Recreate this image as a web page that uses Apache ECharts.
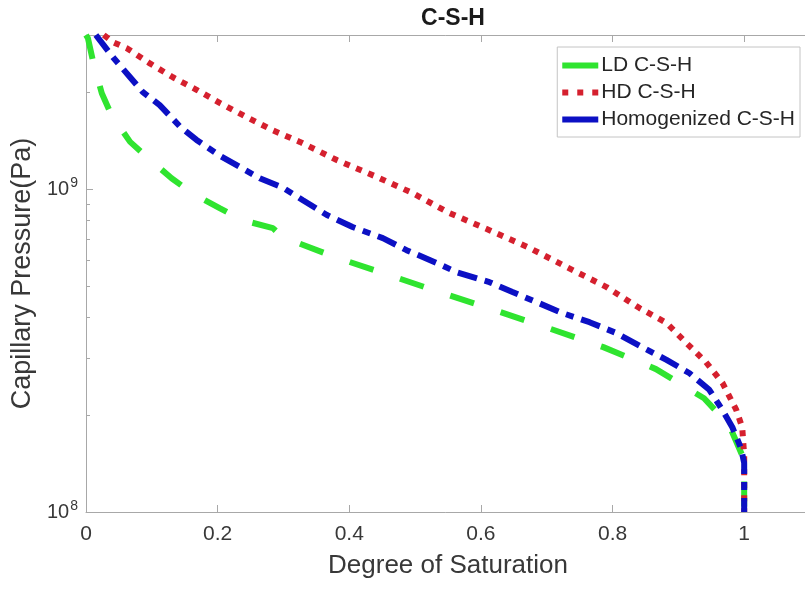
<!DOCTYPE html>
<html><head><meta charset="utf-8">
<script src="https://cdn.jsdelivr.net/npm/echarts@6/dist/echarts.min.js"></script>
<style>html,body{margin:0;padding:0;background:#fff}#c{width:805px;height:590px}</style>
</head><body><div id="c"></div>
<script>
const title = 'C-S-H';
const seriesNames = ['LD C-S-H', 'HD C-S-H', 'Homogenized C-S-H'];
const xTicks = [0, 0.2, 0.4, 0.6, 0.8, 1];
const yTicks = [1e8, 1e9];
const yMinorTicks = [2e8, 3e8, 4e8, 5e8, 6e8, 7e8, 8e8, 9e8, 2e9, 3e9];

const ldX = [0, 0.003, 0.011, 0.024, 0.039, 0.067, 0.094, 0.130, 0.161, 0.203, 0.237, 0.284, 0.299, 0.378, 0.460, 0.542, 0.616, 0.706, 0.786, 0.866, 0.939, 0.977, 1.0, 1.0];
const ldY = [3.0e9, 2.93e9, 2.47e9, 1.98e9, 1.69e9, 1.40e9, 1.25e9, 1.08e9, 9.72e8, 8.73e8, 8.02e8, 7.57e8, 7.10e8, 6.16e8, 5.42e8, 4.76e8, 4.25e8, 3.69e8, 3.24e8, 2.77e8, 2.25e8, 1.86e8, 1.45e8, 1.0e8];

const hdX = [0.027, 0.041, 0.062, 0.097, 0.132, 0.168, 0.203, 0.244, 0.284, 0.325, 0.381, 0.442, 0.496, 0.552, 0.613, 0.674, 0.730, 0.791, 0.841, 0.882, 0.912, 0.942, 0.967, 0.988, 0.997, 1.0, 1.0];
const hdY = [3.0e9, 2.85e9, 2.73e9, 2.45e9, 2.22e9, 2.03e9, 1.85e9, 1.67e9, 1.52e9, 1.40e9, 1.23e9, 1.09e9, 9.72e8, 8.43e8, 7.46e8, 6.57e8, 5.74e8, 4.97e8, 4.28e8, 3.85e8, 3.34e8, 2.91e8, 2.51e8, 2.07e8, 1.83e8, 1.50e8, 1.0e8];

const homX = [0.015, 0.041, 0.067, 0.086, 0.112, 0.143, 0.168, 0.203, 0.234, 0.264, 0.299, 0.329, 0.366, 0.405, 0.451, 0.487, 0.533, 0.563, 0.613, 0.648, 0.684, 0.724, 0.765, 0.806, 0.845, 0.882, 0.917, 0.947, 0.967, 0.982, 0.995, 1.0, 1.0];
const homY = [3.0e9, 2.56e9, 2.22e9, 2.0e9, 1.82e9, 1.56e9, 1.42e9, 1.27e9, 1.17e9, 1.08e9, 1.01e9, 9.25e8, 8.31e8, 7.63e8, 7.05e8, 6.47e8, 5.90e8, 5.53e8, 5.15e8, 4.80e8, 4.47e8, 4.13e8, 3.87e8, 3.58e8, 3.24e8, 2.96e8, 2.69e8, 2.39e8, 2.07e8, 1.83e8, 1.58e8, 1.42e8, 1.0e8];

const zip = (xs, ys) => xs.map((x, i) => [x, ys[i]]);
const font = 'Liberation Sans, Arial, sans-serif';
const axisCol = '#a8a8a8';
const txtCol = '#383838';
const cGreen = '#2fe42f', cRed = '#d5202e', cBlue = '#0c10c4';

const chart = echarts.init(document.getElementById('c'));
chart.setOption({
  animation: false,
  backgroundColor: '#fff',
  title: { text: title, left: 448, top: 2, textAlign: 'center',
    textStyle: { fontFamily: font, fontSize: 23, fontWeight: 'bold', color: '#1a1a1a' } },
  grid: { left: 86, top: 35, width: 724, height: 477, outerBoundsMode: 'none', containLabel: false },
  legend: {
    right: 5, top: 47, orient: 'vertical', itemWidth: 36, itemHeight: 6, itemGap: 6,
    padding: [8, 5, 7, 5], backgroundColor: '#fff', borderColor: '#c4c4c4', borderWidth: 1,
    textStyle: { fontFamily: font, fontSize: 21, color: '#262626', padding: [0, 0, 0, -2] },
    data: [
      { name: seriesNames[0], icon: 'rect' },
      { name: seriesNames[1], icon: 'path://M0,0h6v6h-6zM15,0h6v6h-6zM30,0h6v6h-6z' },
      { name: seriesNames[2], icon: 'rect' }
    ]
  },
  xAxis: [{
    type: 'value', min: 0, max: 1.1,
    name: 'Degree of Saturation', nameLocation: 'middle', nameGap: 41,
    nameTextStyle: { fontFamily: font, fontSize: 26, color: txtCol },
    axisLine: { lineStyle: { color: axisCol } },
    axisTick: { inside: true, length: 7, customValues: xTicks, lineStyle: { color: axisCol } },
    axisLabel: { fontFamily: font, fontSize: 21, color: txtCol, margin: 12, customValues: xTicks,
      formatter: v => String(Math.round(v * 10) / 10) },
    splitLine: { show: false }
  }, {
    type: 'value', min: 0, max: 1.1, position: 'top',
    axisLine: { lineStyle: { color: axisCol } },
    axisTick: { inside: true, length: 7, customValues: xTicks, lineStyle: { color: axisCol } },
    axisLabel: { show: false }, splitLine: { show: false }
  }],
  yAxis: [{
    type: 'log', logBase: 10, min: 1e8, max: 3e9,
    name: 'Capillary Pressure(Pa)', nameLocation: 'middle', nameGap: 50, nameRotate: 90,
    nameTextStyle: { fontFamily: font, fontSize: 27, color: txtCol },
    axisLine: { show: true, lineStyle: { color: axisCol } },
    axisTick: { inside: true, length: 7, customValues: yTicks, lineStyle: { color: axisCol } },
    axisLabel: { fontFamily: font, fontSize: 20, color: txtCol, margin: 8, customValues: yTicks,
      formatter: v => '10{s|' + Math.round(Math.log10(v)) + '}',
      rich: { s: { fontFamily: font, fontSize: 14, color: txtCol, verticalAlign: 'top', padding: [0, 0, 12, 1] } }
    },
    splitLine: { show: false }
  }, {
    type: 'log', logBase: 10, min: 1e8, max: 3e9, position: 'left', offset: 0,
    axisLine: { show: false },
    axisTick: { show: true, inside: true, length: 4, customValues: yMinorTicks, lineStyle: { color: axisCol } },
    axisLabel: { show: false }, splitLine: { show: false }
  }],
  series: [
    { name: seriesNames[0], type: 'line', data: zip(ldX, ldY), symbol: 'none', z: 2,
      color: cGreen, lineStyle: { color: cGreen, width: 6, type: [25, 28] } },
    { name: seriesNames[1], type: 'line', data: zip(hdX, hdY), symbol: 'none', z: 3,
      color: cRed, lineStyle: { color: cRed, width: 6, type: [6, 7] } },
    { name: seriesNames[2], type: 'line', data: zip(homX, homY), symbol: 'none', z: 4,
      color: cBlue, lineStyle: { color: cBlue, width: 6, type: [20, 8, 8, 8] } }
  ]
});
</script></body></html>
